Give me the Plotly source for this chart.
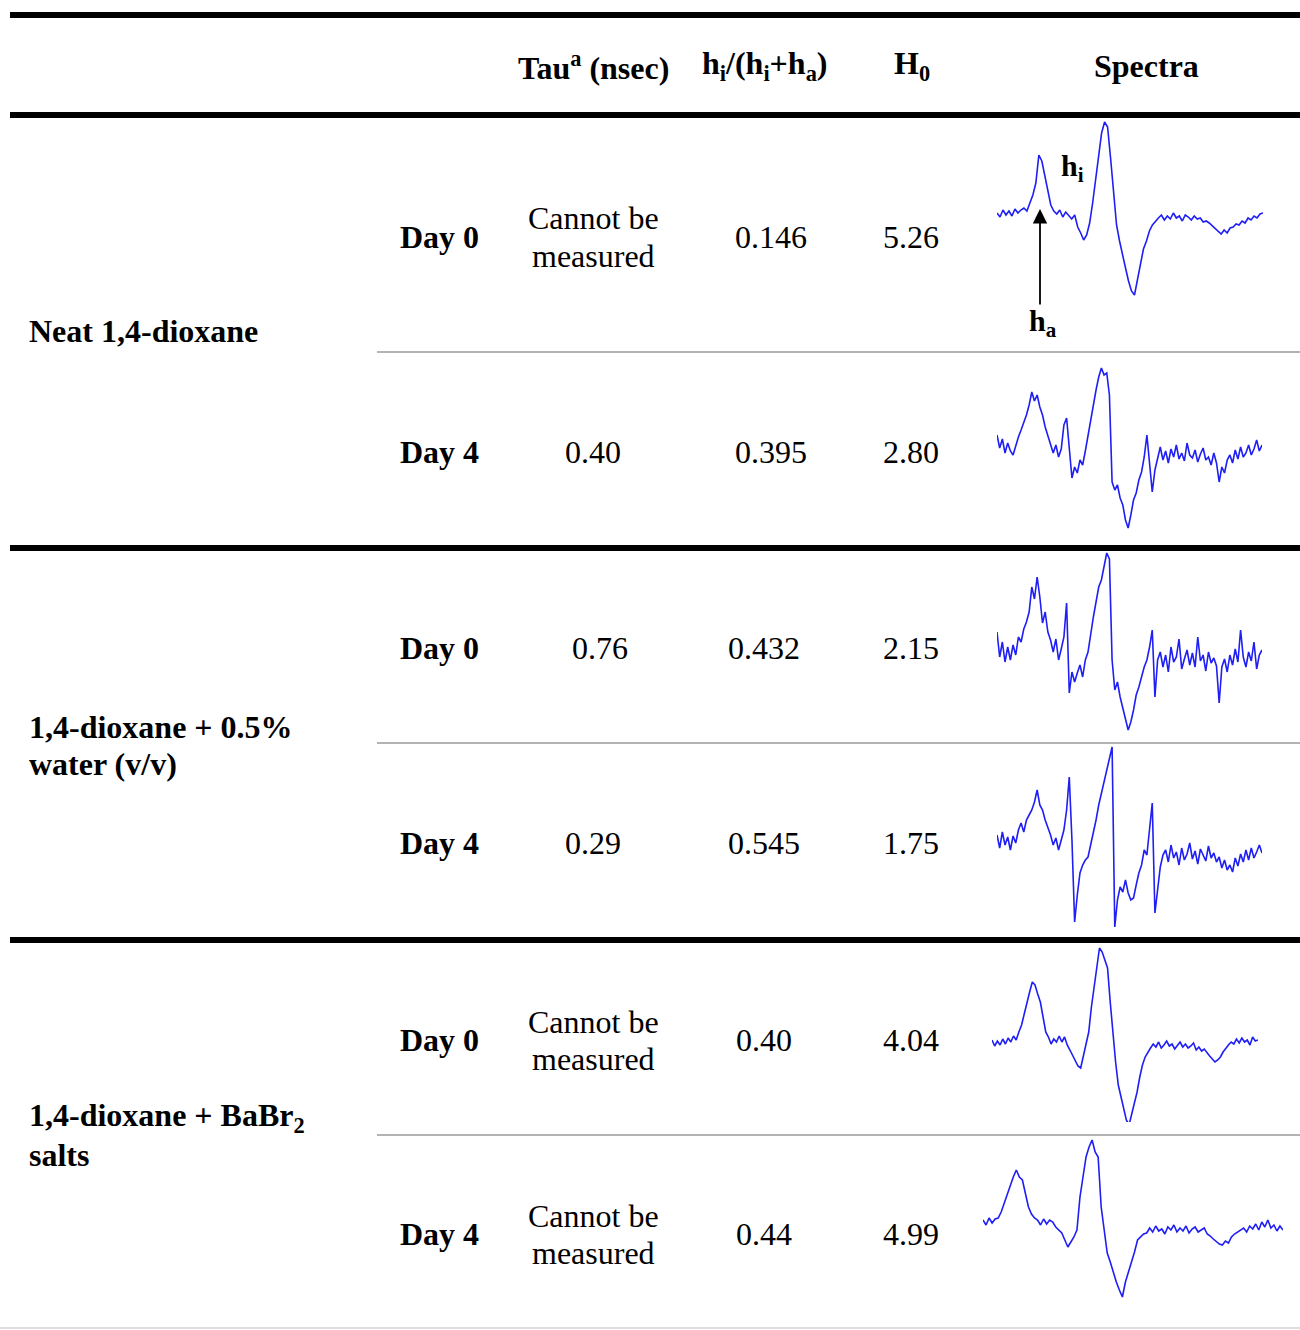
import plotly.graph_objects as go

W, H = 1300, 1330

# ---------------- data ----------------
headers = ["Tau<sup>a</sup> (nsec)", "h<sub>i</sub>/(h<sub>i</sub>+h<sub>a</sub>)", "H<sub>0</sub>", "Spectra"]
groups = ["Neat 1,4-dioxane", "1,4-dioxane + 0.5%<br>water (v/v)", "1,4-dioxane + BaBr<sub>2</sub><br>salts"]
days = ["Day 0", "Day 4", "Day 0", "Day 4", "Day 0", "Day 4"]
tau = ["Cannot be<br>measured", "0.40", "0.76", "0.29", "Cannot be<br>measured", "Cannot be<br>measured"]
ratio = ["0.146", "0.395", "0.432", "0.545", "0.40", "0.44"]
h0 = ["5.26", "2.80", "2.15", "1.75", "4.04", "4.99"]

spec_neat_d0 = [0, -4, 3, -2, 2, -3, 4, 0, 3, 5, 2,
                10, 18, 30, 58, 52, 38, 22, 8, 2,
                -1, 3, -4, 1, -3, -6, -2,
                -14, -20, -27, -22, -10, 10, 35, 58, 80, 91, 86, 55, 18, -12, -28, -40, -55,
                -68, -78, -82, -66, -48, -36, -28, -18, -12, -8, -5,
                -2, -7, -3, -6, 0, -5, -3, -8, -2, -4, -7, -3, -6, -5, -9, -8,
                -10, -13, -16, -18, -21, -17, -20, -15, -14, -11,
                -12, -8, -10, -5, -7, -3, -5, -1, 0]
spec_neat_d4 = [10, -3, 6, -8, 2, -6,
                -10, 0, 8, 15,
                22, 30, 40, 53,
                44, 50, 38,
                30, 18, 10, 2,
                -8, 0, -12, -4,
                20, 27,
                -5, -33, -22, -28, -15,
                -20, -6, 10, 25,
                43, 55, 68,
                77, 70, 72, 50,
                -37, -45, -40, -53,
                -60, -75, -83, -70,
                -55, -48, -35, -27,
                -12, 10, -20, -47,
                -25, -12,
                -2, -15, -6, -18, -4, -12, 0, -14, -8, -16, 2, -10, -13, -5, -17, -9, -3, -15, -12, -20, -8, -18,
                -37, -22, -28, -15,
                -10, -18, -5, -14, -2, -12, -8, 0, -10, -4, 5, -6, 0]
spec_water_d0 = [15, -10, 5, -15, 0,
                 -13, 2, -8, 10,
                 5, 18, 25, 35,
                 60, 48, 70, 50,
                 24, 35, 15, 7,
                 -5, 8, -13,
                 -2, 10, 44,
                 -46, -25, -35, -26,
                 -18, -30, -13, -5,
                 15, 30, 45, 60,
                 67, 80, 94, 88,
                 -13, -43, -35,
                 -50, -60, -72, -83,
                 -75, -63, -48, -40,
                 -30, -20, -13, 0,
                 17, -50, -13,
                 -5, -20, -8, -25, 0, -15, -10, 8, -22, -12, -3, -18, -6, -20, 10, -14, -8, -24, -5, -16, -11, -19,
                 -56, -20, -12, -25,
                 -8, -18, -2, -15, 17, -10, -20, -5, -14, 5, -22, -8, -3]
spec_water_d4 = [5, -8, 8, -5, 3,
                 -10, 4, -3, 10, 17,
                 8, 20, 25, 30, 38,
                 50, 35,
                 30, 20, 13,
                 5, -5, 2,
                 -10, 0, 10,
                 30, 63,
                 0, -82, -55,
                 -33, -25, -20,
                 -17, -5,
                 7, 20, 35,
                 47, 58, 70, 82,
                 93,
                 -87, -60,
                 -47, -52, -40, -53,
                 -60, -58, -45, -33,
                 -25, -10, -15, 10,
                 37, -73,
                 -50, -27, -15,
                 -10, -22, -5, -18, -12, -25, -8, -20, -14, -3, -19, -11, -24, -9, -16, -21, -6, -18, -13, -22,
                 -17, -28, -20, -30, -25, -32, -18, -26, -14, -22, -10, -20, -8, -18, -12, -5, -13]
spec_babr_d0 = [2, -4, 1, -3, 3, -2, 4, 0,
                6, 2, 10, 17,
                28, 40, 50, 60,
                57, 48, 40,
                25, 10, 5,
                -2, 3, 0,
                6, 0, 5,
                -3, -8, -13,
                -18, -24, -26,
                -15, -2, 10,
                35, 54, 75, 94,
                90, 82, 74,
                40, 7, -20, -43,
                -55, -68, -78, -83,
                -72, -62, -50,
                -35, -23,
                -15, -10, -6,
                -2, -5, 0, -6, -3, 1, -4, -2, -7, -3, 0, -5, -2, -6, -4, -1, -8, -5, -9, -7, -11,
                -14, -17, -20, -18, -15, -10, -6, -3, 0,
                -2, 3, -1, 4, 0, 2, -3, 5, 1, 2]
spec_babr_d4 = [2, -3, 4, -1, 3,
                4, 10, 19,
                28, 35, 45, 52,
                45, 42, 30,
                15, 8, 4, 2,
                -3, 3, -2, 2, 0,
                -5, -8, -11,
                -18, -25, -20,
                -15, -8, 25,
                45, 65, 75, 82,
                70, 65, 15,
                -10, -31, -40, -51,
                -60, -68, -75, -60,
                -50, -41, -30, -18,
                -15, -12, -11,
                -6, -10, -4, -9, -7, -12, -5, -8, -3, -10, -6, -9, -4, -11, -7, -5, -10, -8, -6, -12,
                -14, -17, -20, -22, -23, -19, -21, -15, -12, -10, -8,
                -6, -10, -4, -7, -2, -8, 0, -5, 2, -6, -3, -9, -4, -8]
spectra = [spec_neat_d0, spec_neat_d4, spec_water_d0, spec_water_d4, spec_babr_d0, spec_babr_d4]

# ---------------- layout geometry (pixels) ----------------
row_y = [237, 452, 648, 843, 1040, 1234]
tau_x = [593, 593, 600, 593, 593, 593]
ratio_x = [771, 771, 764, 764, 764, 764]
h0_x = 911
day_x = 439
group_y = [331, 745, 1136]
group_x = 27
header_x = [593, 765, 912, 1146]
header_y = 66
spec_box = [(997, 1263, 213), (997, 1262, 445), (997, 1262, 647),
            (997, 1262, 840), (992, 1258, 1042), (983, 1283, 1222)]
LINE_H = 37
FONT = "Liberation Serif"
FS = 32

fig = go.Figure()


def px_x(px):
    return px / W


def px_y(py):
    return 1 - py / H


def text(px, py, s, bold=False, anchor="center", size=FS):
    lines = s.split("<br>")
    n = len(lines)
    for k, ln in enumerate(lines):
        yy = py + (k - (n - 1) / 2) * LINE_H
        fig.add_annotation(x=px_x(px), y=px_y(yy), xref="paper", yref="paper",
                           text=f"<b>{ln}</b>" if bold else ln, showarrow=False,
                           xanchor=anchor, yanchor="middle",
                           font=dict(family=FONT, size=size, color="black"))


# header
for hx, ht in zip(header_x, headers):
    text(hx, header_y, ht, bold=True)

# group labels
for gy, g in zip(group_y, groups):
    text(group_x, gy, g, bold=True, anchor="left")

# rows
for i in range(6):
    text(day_x, row_y[i], days[i], bold=True)
    text(tau_x[i], row_y[i], tau[i])
    text(ratio_x[i], row_y[i], ratio[i])
    text(h0_x, row_y[i], h0[i])

# spectra
for k, (ys, (l, r, b)) in enumerate(zip(spectra, spec_box)):
    idx = "" if k == 0 else str(k + 1)
    fig.add_trace(go.Scatter(x=list(range(len(ys))), y=ys, mode="lines",
                             line=dict(color="rgb(30,30,245)", width=1.6),
                             xaxis="x" + idx, yaxis="y" + idx,
                             showlegend=False, hoverinfo="skip"))
    fig.layout["xaxis" + idx] = dict(domain=[px_x(l), px_x(r)], range=[0, len(ys) - 1],
                                     visible=False, anchor="y" + idx, fixedrange=True)
    fig.layout["yaxis" + idx] = dict(domain=[px_y(b + 100), px_y(b - 100)], range=[-100, 100],
                                     visible=False, anchor="x" + idx, fixedrange=True)

# spectrum labels and arrow
text(1072, 168, "h<sub>i</sub>", bold=True, size=30)
text(1043, 323, "h<sub>a</sub>", bold=True, size=30)
fig.add_annotation(x=px_x(1040), y=px_y(209), xref="paper", yref="paper", text="",
                   showarrow=True, ax=0, ay=97, arrowhead=2, arrowsize=1.6,
                   arrowwidth=1.8, arrowcolor="black")

# rules
shapes = []
for yy in [15, 115, 548, 940]:
    shapes.append(dict(type="line", xref="paper", yref="paper", x0=px_x(10), x1=1,
                       y0=px_y(yy), y1=px_y(yy), line=dict(color="black", width=6)))
for yy in [352, 743, 1135]:
    shapes.append(dict(type="line", xref="paper", yref="paper", x0=px_x(377), x1=1,
                       y0=px_y(yy), y1=px_y(yy), line=dict(color="#9a9a9a", width=1.5)))
shapes.append(dict(type="line", xref="paper", yref="paper", x0=0, x1=1,
                   y0=px_y(1328), y1=px_y(1328), line=dict(color="#dddddd", width=2)))

fig.update_layout(width=W, height=H, margin=dict(l=0, r=0, t=0, b=0),
                  paper_bgcolor="white", plot_bgcolor="white", shapes=shapes,
                  showlegend=False)

fig.write_html("out.html", config={"displayModeBar": False},
               post_script="document.body.style.margin='0';document.body.style.overflow='hidden';")
